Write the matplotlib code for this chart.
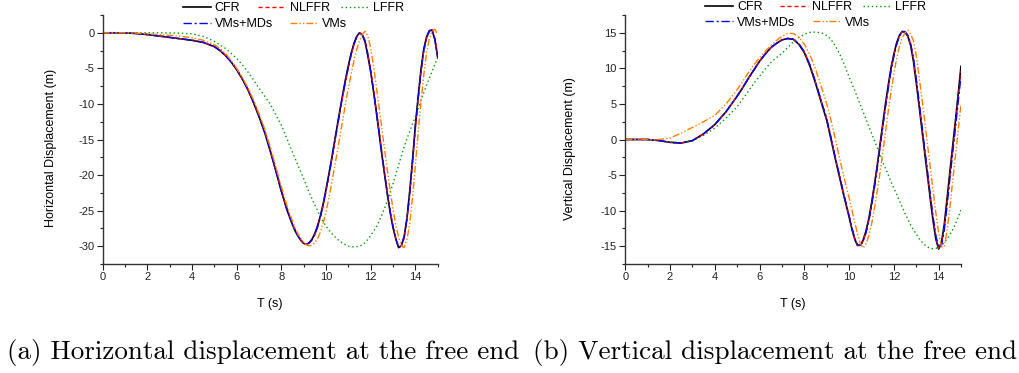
import numpy as np
import matplotlib
matplotlib.use("Agg")
import matplotlib.pyplot as plt
from matplotlib.ticker import MultipleLocator
from matplotlib.legend import Legend

plt.rcParams['font.family'] = ['Liberation Sans', 'DejaVu Sans']
plt.rcParams['axes.unicode_minus'] = False

# time samples (s)
t = np.concatenate([np.arange(0, 5.01, 0.5), np.arange(5.25, 8.51, 0.25), np.arange(8.625, 15.001, 0.125)])

# ---------------- (a) Horizontal displacement (m) ----------------
h_cfr = [0, 0, -0.02, -0.1, -0.25, -0.45, -0.65, -0.85, -1.05, -1.35, -1.95,
         -2.5, -3.2, -4.1, -5.2, -6.5, -8.0, -9.8, -11.8, -14.0, -16.6, -19.4, -22.3, -24.9, -27.0,
         -27.9, -28.6, -29.2, -29.6, -29.75, -29.5, -29.0, -28.2, -27.1, -25.7, -24.0, -22.0,
         -19.9, -17.7, -15.4, -13.1, -10.8, -8.6, -6.5, -4.6,
         -2.9, -1.5, -0.5, 0.0, -0.3, -1.3, -3.3, -5.5,
         -8.2, -11.1, -14.1, -17.1, -20.0, -22.8, -25.3, -27.4,
         -29.0, -30.2, -29.9, -28.6, -26.0, -22.2, -17.8, -13.0,
         -9.0, -5.2, -2.3, -0.6, 0.3, 0.4, -1.0, -3.5]
h_nlffr = [0, 0, -0.02, -0.1, -0.25, -0.45, -0.65, -0.85, -1.05, -1.35, -1.93,
           -2.45, -3.15, -4.05, -5.1, -6.4, -7.9, -9.7, -11.6, -13.8, -16.4, -19.2, -22.1, -24.7, -26.9,
           -27.8, -28.5, -29.1, -29.6, -29.75, -29.6, -29.1, -28.4, -27.3, -25.9, -24.3, -22.3,
           -20.2, -18.0, -15.7, -13.4, -11.1, -8.9, -6.8, -4.9,
           -3.1, -1.7, -0.6, 0.0, -0.2, -1.1, -3.0, -5.2,
           -7.9, -10.8, -13.8, -16.8, -19.7, -22.5, -25.1, -27.2,
           -28.9, -30.2, -30.0, -28.8, -26.3, -22.6, -18.2, -13.5,
           -9.4, -5.6, -2.6, -0.8, 0.2, 0.4, -0.8, -3.2]
h_lffr = [0, 0, 0, 0, 0, 0, -0.02, -0.06, -0.15, -0.5, -1.2,
          -1.7, -2.2, -2.9, -3.6, -4.5, -5.5, -6.6, -7.8, -8.9, -10.0, -11.5, -13.0, -14.9, -16.8,
          -17.75, -18.7, -19.6, -20.5, -21.5, -22.5, -23.35, -24.2, -25.05, -25.9, -26.55, -27.2,
          -27.7, -28.2, -28.6, -29.0, -29.3, -29.6, -29.8, -30.0,
          -30.05, -30.1, -30.05, -30.0, -29.8, -29.5, -29.05, -28.5,
          -27.9, -27.3, -26.5, -25.6, -24.6, -23.6, -22.4, -21.2,
          -19.9, -18.6, -17.3, -16.0, -14.9, -13.8, -12.8, -11.75,
          -10.65, -9.5, -8.45, -7.4, -6.4, -5.4, -4.45, -3.5]
h_vmsmds = [0, 0, -0.02, -0.1, -0.25, -0.45, -0.65, -0.85, -1.05, -1.35, -1.94,
            -2.48, -3.18, -4.08, -5.15, -6.45, -7.95, -9.75, -11.7, -13.9, -16.5, -19.3, -22.2, -24.8, -26.9,
            -27.85, -28.55, -29.15, -29.6, -29.75, -29.55, -29.05, -28.3, -27.2, -25.8, -24.15, -22.15,
            -20.05, -17.85, -15.55, -13.25, -10.95, -8.75, -6.65, -4.75,
            -3.0, -1.6, -0.55, 0.0, -0.25, -1.2, -3.15, -5.35,
            -8.05, -10.95, -13.95, -16.95, -19.85, -22.65, -25.2, -27.3,
            -28.95, -30.2, -29.95, -28.7, -26.15, -22.4, -18.0, -13.25,
            -9.2, -5.4, -2.45, -0.7, 0.25, 0.4, -0.9, -3.35]
h_vms = [0, 0, 0, -0.05, -0.15, -0.25, -0.35, -0.5, -0.7, -1.05, -1.65,
         -2.2, -2.9, -3.9, -5.0, -6.3, -7.7, -9.4, -11.4, -13.5, -16.0, -18.8, -21.6, -24.3, -26.5,
         -27.5, -28.3, -29.0, -29.5, -29.8, -29.95, -29.85, -29.5, -28.9, -28.0, -26.7, -25.2,
         -23.3, -21.2, -19.0, -16.8, -14.5, -12.2, -9.9, -7.8,
         -5.8, -3.9, -2.3, -1.1, -0.2, 0.2, -0.4, -2.2,
         -4.6, -7.5, -10.4, -13.5, -16.5, -19.4, -22.2, -24.8,
         -27.0, -28.7, -30.0, -30.2, -29.0, -26.8, -23.1, -18.7,
         -14.0, -9.8, -6.0, -2.8, -0.9, 0.2, 0.5, -0.3]

# ---------------- (b) Vertical displacement (m) ----------------
v_cfr = [0, 0, 0.0, -0.15, -0.4, -0.5, -0.15, 0.8, 2.1, 3.9, 6.1,
         7.3, 8.6, 9.8, 11.0, 12.0, 12.9, 13.5, 14.0, 14.2, 14.1, 13.4, 12.2, 10.3, 7.9,
         6.6, 5.3, 4.0, 2.7, 1.0, -0.8, -2.6, -4.3, -6.0, -7.7, -9.3, -10.9,
         -12.6, -14.0, -14.9, -14.85, -14.15, -12.9, -11.2, -9.0,
         -6.5, -3.8, -0.85, 2.1, 5.0, 7.65, 10.1, 12.0,
         13.6, 14.65, 15.2, 15.1, 14.5, 13.2, 11.0, 8.0,
         4.8, 1.5, -1.8, -5.0, -8.3, -11.4, -14.0, -15.4,
         -14.5, -12.0, -8.4, -4.6, -1.0, 2.6, 6.4, 10.3]
v_nlffr = [0, 0, 0.0, -0.15, -0.4, -0.5, -0.15, 0.8, 2.1, 3.9, 6.1,
           7.3, 8.6, 9.8, 11.0, 12.0, 12.9, 13.5, 14.0, 14.2, 14.1, 13.45, 12.3, 10.45, 8.05,
           6.75, 5.45, 4.15, 2.85, 1.15, -0.65, -2.45, -4.15, -5.85, -7.55, -9.15, -10.75,
           -12.45, -13.9, -14.85, -14.9, -14.3, -13.1, -11.45, -9.3,
           -6.8, -4.1, -1.15, 1.8, 4.7, 7.35, 9.85, 11.8,
           13.45, 14.55, 15.15, 15.15, 14.6, 13.4, 11.3, 8.35,
           5.2, 1.9, -1.4, -4.6, -7.9, -11.0, -13.7, -15.3,
           -14.8, -12.5, -9.0, -5.2, -1.6, 2.0, 5.8, 9.6]
v_lffr = [0, 0, 0, -0.1, -0.35, -0.45, -0.2, 0.6, 1.6, 3.0, 4.6,
          5.7, 6.8, 7.9, 8.9, 9.9, 10.8, 11.5, 12.1, 12.9, 13.7, 14.3, 14.8, 15.05, 15.1,
          15.05, 15.0, 14.85, 14.6, 14.25, 13.8, 13.2, 12.5, 11.7, 10.8, 9.8, 8.8,
          7.85, 6.9, 5.9, 4.9, 3.9, 2.9, 1.9, 0.9,
          -0.1, -1.1, -2.1, -3.1, -4.05, -5.0, -5.95, -6.85,
          -7.7, -8.6, -9.5, -10.4, -11.2, -12.0, -12.7, -13.3,
          -13.9, -14.4, -14.8, -15.1, -15.3, -15.35, -15.3, -15.15,
          -14.9, -14.5, -14.0, -13.4, -12.7, -11.9, -10.9, -9.9]
v_vmsmds = [0, 0, 0.0, -0.15, -0.4, -0.5, -0.15, 0.8, 2.1, 3.9, 6.1,
            7.3, 8.6, 9.8, 11.0, 12.0, 12.9, 13.5, 14.0, 14.2, 14.1, 13.5, 12.35, 10.5, 8.1,
            6.8, 5.5, 4.2, 2.9, 1.2, -0.6, -2.4, -4.1, -5.8, -7.5, -9.1, -10.7,
            -12.4, -13.85, -14.8, -14.9, -14.35, -13.2, -11.55, -9.4,
            -6.95, -4.25, -1.3, 1.65, 4.55, 7.2, 9.7, 11.7,
            13.35, 14.5, 15.1, 15.2, 14.65, 13.5, 11.45, 8.55,
            5.4, 2.1, -1.2, -4.4, -7.7, -10.8, -13.5, -15.2,
            -14.9, -12.8, -9.4, -5.6, -2.0, 1.6, 5.3, 9.0]
v_vms = [0, 0, 0, 0, 0.2, 0.9, 1.7, 2.5, 3.4, 5.0, 7.0,
         8.2, 9.4, 10.5, 11.5, 12.4, 13.2, 13.9, 14.5, 14.9, 14.9, 14.4, 13.4, 11.9, 9.9,
         8.7, 7.5, 6.3, 5.0, 3.5, 1.9, 0.2, -1.6, -3.3, -5.0, -6.6, -8.2,
         -9.9, -11.6, -13.2, -14.6, -15.25, -14.7, -13.6, -12.0,
         -9.8, -7.4, -4.8, -1.9, 1.0, 4.0, 6.7, 9.2,
         11.4, 13.1, 14.3, 15.0, 15.4, 14.8, 13.9, 11.8,
         8.9, 5.9, 2.7, -0.6, -3.9, -7.1, -10.3, -13.1,
         -15.1, -15.1, -12.9, -9.7, -5.9, -2.3, 1.3, 5.0]

labels = ['CFR', 'NLFFR', 'LFFR', 'VMs+MDs', 'VMs']
colors = ['#000000', '#FF0000', '#009900', '#0000FF', '#FF8000']
styles = ['-', (0, (3, 2)), (0, (1, 2)), (0, (6, 2, 1.5, 2)), (0, (5, 1.5, 1, 1.5, 1, 1.5))]
widths = [1.2, 1.0, 1.0, 1.0, 1.0]

W, H = 1019, 373
fig = plt.figure(figsize=(W / 100, H / 100), dpi=100)

def px_axes(x0, x1, ytop, ybot):
    return fig.add_axes([x0 / W, 1 - ybot / H, (x1 - x0) / W, (ybot - ytop) / H])

ax1 = px_axes(102.7, 437.7, 15, 264)
ax2 = px_axes(625.3, 961.0, 15, 264)

# legend entry positions (figure pixels: x of line start, y of row centre)
leg_pos_a = [(182.7, 8.3), (258.0, 8.3), (340.7, 8.3), (182.7, 24.3), (290.0, 24.3)]
leg_pos_b = [(705.0, 7.3), (780.0, 7.3), (863.0, 7.3), (705.0, 22.7), (813.0, 22.7)]

panels = [
    (ax1, [h_cfr, h_nlffr, h_lffr, h_vmsmds, h_vms], (-32.5, 2.5), 'Horizontal Displacement (m)', -0.136, 0.466, leg_pos_a),
    (ax2, [v_cfr, v_nlffr, v_lffr, v_vmsmds, v_vms], (-17.5, 17.5), 'Vertical Displacement (m)', -0.147, 0.462, leg_pos_b),
]

for ax, series, ylim, ylabel, ylx, yly, legpos in panels:
    lines = []
    for data, lab, c, ls, lw in zip(series, labels, colors, styles, widths):
        assert len(data) == len(t), (lab, len(data), len(t))
        ln, = ax.plot(t, data, color=c, linestyle=ls, lw=lw, label=lab)
        lines.append(ln)
    ax.set_xlim(0, 15)
    ax.set_ylim(*ylim)
    ax.xaxis.set_major_locator(MultipleLocator(2))
    ax.xaxis.set_minor_locator(MultipleLocator(1))
    ax.yaxis.set_major_locator(MultipleLocator(5))
    ax.yaxis.set_minor_locator(MultipleLocator(2.5))
    ax.spines['top'].set_visible(False)
    ax.spines['right'].set_visible(False)
    for s in ('left', 'bottom'):
        ax.spines[s].set_linewidth(1.0)
        ax.spines[s].set_color('#333333')
    ax.tick_params(which='major', direction='out', length=4, width=0.8, labelsize=8, pad=2, colors='#222222')
    ax.tick_params(which='minor', direction='out', length=2.5, width=0.8, colors='#222222')
    ax.set_xlabel('T (s)', fontsize=9)
    ax.xaxis.set_label_coords(0.5, -0.135)
    ax.set_ylabel(ylabel, fontsize=9)
    ax.yaxis.set_label_coords(ylx, yly)
    for ln, lab, (lx, ly) in zip(lines, labels, legpos):
        leg = Legend(ax, [ln], [lab], frameon=False, fontsize=9, handlelength=2.25,
                     handletextpad=0.3, borderpad=0, borderaxespad=0, loc='center left',
                     bbox_to_anchor=(lx / W, 1 - ly / H), bbox_transform=fig.transFigure)
        ax.add_artist(leg)

cap_kw = dict(family=['cmr10', 'DejaVu Serif'], fontsize=19.5, ha='center', va='center')
fig.text(263 / W, 1 - 352 / H, '(a) Horizontal displacement at the free end', **cap_kw)
fig.text(775 / W, 1 - 352 / H, '(b) Vertical displacement at the free end', **cap_kw)

fig.savefig('out.png', dpi=100)
